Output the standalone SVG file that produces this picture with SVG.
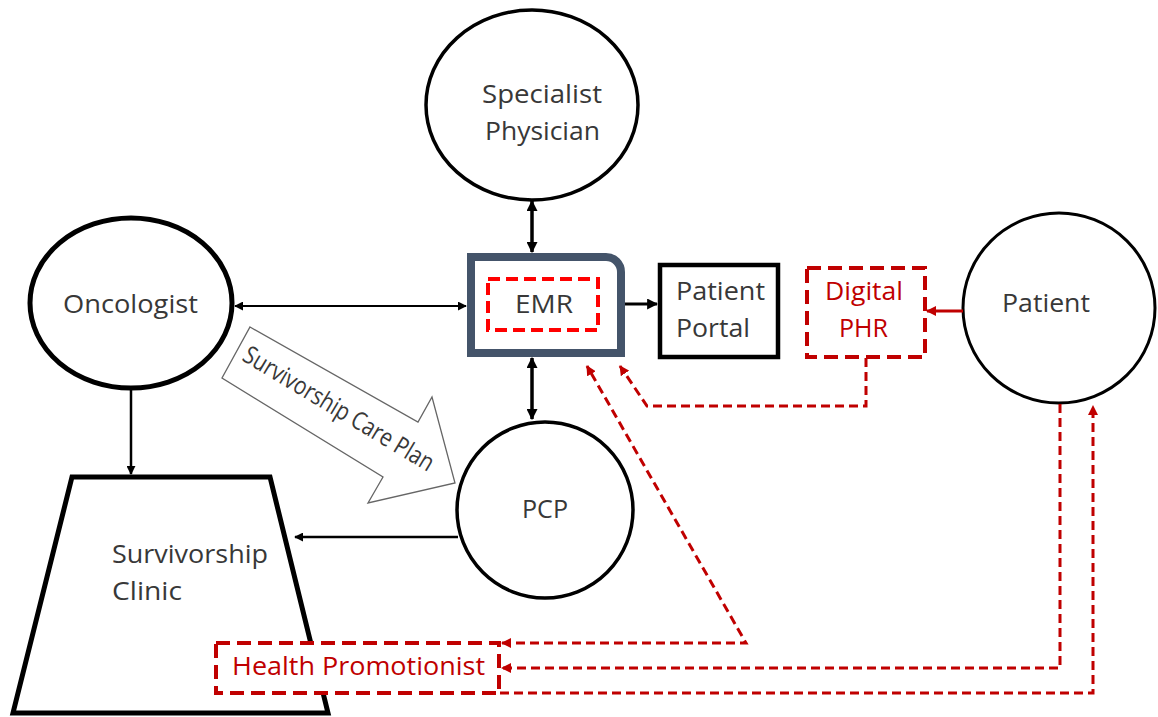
<svg xmlns="http://www.w3.org/2000/svg" width="1158" height="717" viewBox="0 0 1158 717">
<style>
.t{font-family:"Open Sans","Liberation Sans",sans-serif;font-size:25px;fill:#383838}
.r{fill:#C00000}
.node{fill:#fff;stroke:#000}
.blk{fill:none;stroke:#000}
.red{fill:none;stroke:#C00000;stroke-width:3;stroke-dasharray:9 5}
.rbox{fill:#fff;stroke:#C00000;stroke-width:4;stroke-dasharray:14 7}
</style>
<defs>
<marker id="ab" viewBox="0 0 10 10" refX="9" refY="5" markerWidth="11" markerHeight="11" markerUnits="userSpaceOnUse" orient="auto-start-reverse"><path d="M0,0 L10,5 L0,10 z" fill="#000"/></marker>
<marker id="abs" viewBox="0 0 10 10" refX="9" refY="5" markerWidth="9" markerHeight="9" markerUnits="userSpaceOnUse" orient="auto-start-reverse"><path d="M0,0 L10,5 L0,10 z" fill="#000"/></marker>
<marker id="ar" viewBox="0 0 10 10" refX="9" refY="5" markerWidth="10" markerHeight="10" markerUnits="userSpaceOnUse" orient="auto-start-reverse"><path d="M0,0 L10,5 L0,10 z" fill="#C00000"/></marker>
</defs>
<rect width="1158" height="717" fill="#fff"/>

<g id="specialist">
<ellipse class="node" cx="532" cy="105" rx="106" ry="95" stroke-width="3.5"/>
<text class="t" x="482" y="103" textLength="120" lengthAdjust="spacingAndGlyphs">Specialist</text>
<text class="t" x="485" y="140" textLength="115" lengthAdjust="spacingAndGlyphs">Physician</text>
</g>

<g id="oncologist">
<ellipse class="node" cx="131" cy="303" rx="101" ry="85" stroke-width="5"/>
<text class="t" x="63" y="313" textLength="135" lengthAdjust="spacingAndGlyphs">Oncologist</text>
</g>

<g id="survivorship-clinic">
<polygon class="node" points="72,477 270,477 328,713 13,713" stroke-width="5"/>
<text class="t" x="112" y="563" textLength="156" lengthAdjust="spacingAndGlyphs">Survivorship</text>
<text class="t" x="112" y="600" textLength="70" lengthAdjust="spacingAndGlyphs">Clinic</text>
</g>

<g id="care-plan">
<polygon points="250,327 418,422 432,397 455,483 368,503 383,477 222,378" fill="#fff" stroke="#666" stroke-width="1.3"/>
<text class="t" x="0" y="7" font-size="19" text-anchor="middle" textLength="218" lengthAdjust="spacingAndGlyphs" transform="translate(338,410) rotate(31)">Survivorship Care Plan</text>
</g>

<g id="emr">
<path d="M471,257 H606 A15,15 0 0 1 621,272 V353 H471 Z" fill="#fff" stroke="#44546A" stroke-width="8"/>
<rect x="488" y="279" width="110" height="51" fill="none" stroke="#FF0000" stroke-width="4" stroke-dasharray="12 6"/>
<text class="t" x="515" y="313" font-size="26" textLength="58" lengthAdjust="spacingAndGlyphs">EMR</text>
</g>

<g id="patient-portal">
<rect x="660" y="265" width="118" height="92" fill="#fff" stroke="#000" stroke-width="4.5"/>
<text class="t" x="676" y="300" textLength="89" lengthAdjust="spacingAndGlyphs">Patient</text>
<text class="t" x="676" y="337" textLength="74" lengthAdjust="spacingAndGlyphs">Portal</text>
</g>

<g id="digital-phr">
<rect class="rbox" x="807" y="268" width="118" height="89"/>
<text class="t r" x="825" y="300" textLength="78" lengthAdjust="spacingAndGlyphs">Digital</text>
<text class="t r" x="839" y="337" textLength="49" lengthAdjust="spacingAndGlyphs">PHR</text>
</g>

<g id="patient">
<ellipse class="node" cx="1059" cy="308" rx="96" ry="95" stroke-width="3"/>
<text class="t" x="1002" y="312" textLength="88" lengthAdjust="spacingAndGlyphs">Patient</text>
</g>

<g id="pcp">
<circle class="node" cx="545" cy="510" r="88" stroke-width="3.5"/>
<text class="t" x="522" y="518" textLength="46" lengthAdjust="spacingAndGlyphs">PCP</text>
</g>

<g id="health-promotionist">
<rect class="rbox" x="216" y="643" width="283" height="50"/>
<text class="t r" x="232" y="675" textLength="253" lengthAdjust="spacingAndGlyphs">Health Promotionist</text>
</g>

<g id="connectors">
<line class="blk" x1="532" y1="201" x2="532" y2="252" stroke-width="3.5" marker-start="url(#ab)" marker-end="url(#ab)"/>
<line class="blk" x1="532" y1="358" x2="532" y2="419" stroke-width="3.5" marker-start="url(#ab)" marker-end="url(#ab)"/>
<line class="blk" x1="235" y1="306" x2="466" y2="306" stroke-width="2" marker-start="url(#abs)" marker-end="url(#abs)"/>
<line class="blk" x1="625" y1="304" x2="657" y2="304" stroke-width="3" marker-end="url(#ab)"/>
<line class="blk" x1="131" y1="390" x2="131" y2="474" stroke-width="2.5" marker-end="url(#abs)"/>
<line class="blk" x1="458" y1="537" x2="295" y2="537" stroke-width="2.5" marker-end="url(#abs)"/>
<line x1="963" y1="311" x2="927" y2="311" stroke="#C00000" stroke-width="3" marker-end="url(#ar)"/>
<path class="red" d="M866,358 V406 H647 L620,366" marker-end="url(#ar)"/>
<path class="red" d="M502,643 H746 L587,366" marker-start="url(#ar)" marker-end="url(#ar)"/>
<path class="red" d="M1060,404 V668 H502" marker-end="url(#ar)"/>
<path class="red" d="M500,693 H1093 V406" marker-end="url(#ar)"/>
</g>
</svg>
